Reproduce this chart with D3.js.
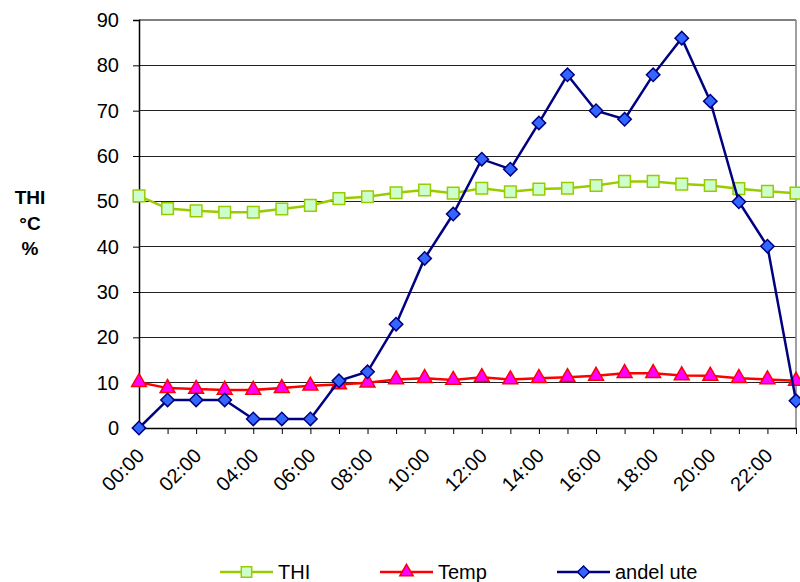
<!DOCTYPE html>
<html>
<head>
<meta charset="utf-8">
<script src="https://cdn.jsdelivr.net/npm/d3@7"></script>
<style>
  body { margin: 0; background: #fff; }
  text { font-family: Arial, "Liberation Sans", sans-serif; }
</style>
</head>
<body>
<div id="chart"></div>
<script>
var hours = ["00:00","01:00","02:00","03:00","04:00","05:00","06:00","07:00","08:00","09:00","10:00","11:00",
             "12:00","13:00","14:00","15:00","16:00","17:00","18:00","19:00","20:00","21:00","22:00","23:00"];
var thi = [51.2, 48.4, 47.9, 47.6, 47.6, 48.3, 49.1, 50.6, 51.0, 51.9, 52.5, 51.8,
           52.9, 52.1, 52.7, 52.9, 53.5, 54.4, 54.4, 53.8, 53.5, 52.8, 52.2, 51.8];
var temp = [10.1, 8.8, 8.6, 8.4, 8.4, 8.8, 9.3, 9.6, 10.0, 10.7, 11.0, 10.6,
            11.2, 10.7, 11.0, 11.2, 11.5, 12.1, 12.1, 11.6, 11.5, 11.0, 10.7, 10.4];
var andelUte = [0, 6.2, 6.2, 6.2, 2.0, 2.0, 2.0, 10.4, 12.4, 22.9, 37.4, 47.2,
                59.3, 57.1, 67.3, 77.9, 70.0, 68.1, 77.9, 86.0, 72.1, 49.9, 40.1, 6.0];
var yTicks = [0, 10, 20, 30, 40, 50, 60, 70, 80, 90];
var yTitle = ["THI", "\u00b0C", "%"];

var width = 800, height = 582;
var fontSize = 20;

var svg = d3.select("#chart").append("svg")
    .attr("width", width)
    .attr("height", height);

var x = d3.scalePoint().domain(hours).range([139, 796]);
var y = d3.scaleLinear().domain([0, 90]).range([428, 20]);

// gridlines
svg.append("g").selectAll("line")
    .data(yTicks.filter(function(d){ return d > 0; }))
    .enter().append("line")
    .attr("x1", 139).attr("x2", 796)
    .attr("y1", function(d){ return y(d); })
    .attr("y2", function(d){ return y(d); })
    .attr("stroke", function(d){ return d == 90 ? "#808080" : "#222"; })
    .attr("stroke-width", function(d){ return d == 90 ? 1.5 : 1; })
    .attr("shape-rendering", "crispEdges");

// right border
svg.append("line")
    .attr("x1", 796).attr("x2", 796).attr("y1", 20).attr("y2", 428)
    .attr("stroke", "#808080").attr("stroke-width", 1.5);

// y axis
var yAxis = d3.axisLeft(y).tickValues(yTicks).tickSize(6).tickPadding(14);
var gy = svg.append("g").attr("transform", "translate(139,0)").call(yAxis);
gy.select(".domain").attr("stroke", "#000").attr("stroke-width", 1.5);
gy.selectAll(".tick line").attr("stroke", "#000");
gy.selectAll(".tick text").attr("font-size", fontSize).attr("fill", "#000")
    .style("font-family", "Arial, 'Liberation Sans', sans-serif");

// x axis
var xAxis = d3.axisBottom(x).tickSize(6).tickSizeOuter(0)
    .tickFormat(function(d, i){ return i % 2 == 0 ? d : ""; });
var gx = svg.append("g").attr("transform", "translate(0,428)").call(xAxis);
gx.select(".domain").attr("stroke", "#000").attr("stroke-width", 1.5);
gx.selectAll(".tick line").attr("stroke", "#000");
gx.selectAll(".tick text")
    .attr("font-size", fontSize).attr("fill", "#000")
    .style("font-family", "Arial, 'Liberation Sans', sans-serif")
    .attr("text-anchor", "end")
    .attr("dy", null)
    .attr("y", 0)
    .attr("transform", "translate(6,29) rotate(-45)");

// y title
svg.append("g").selectAll("text")
    .data(yTitle)
    .enter().append("text")
    .attr("x", 30)
    .attr("y", function(d, i){ return 204 + i * 25.5; })
    .attr("text-anchor", "middle")
    .attr("font-size", 19)
    .attr("font-weight", "bold")
    .text(function(d){ return d; });

var line = d3.line()
    .x(function(d, i){ return x(hours[i]); })
    .y(function(d){ return y(d); });

var series = [
  {name: "THI", values: thi, color: "#99cc00", fill: "#ccffcc", symbol: d3.symbolSquare, size: 135, rot: 0},
  {name: "Temp", values: temp, color: "#ff0000", fill: "#ff00ff", symbol: d3.symbolTriangle, size: 95, rot: 0},
  {name: "andel ute", values: andelUte, color: "#000080", fill: "#3366ff", symbol: d3.symbolSquare, size: 90, rot: 45}
];

series.forEach(function(s){
    var g = svg.append("g");
    g.append("path")
        .attr("d", line(s.values))
        .attr("fill", "none")
        .attr("stroke", s.color)
        .attr("stroke-width", 2.5);
    g.selectAll("path.m")
        .data(s.values)
        .enter().append("path")
        .attr("class", "m")
        .attr("d", d3.symbol().type(s.symbol).size(s.size))
        .attr("transform", function(d, i){
            return "translate(" + x(hours[i]) + "," + y(d) + ") rotate(" + s.rot + ")";
        })
        .attr("fill", s.fill)
        .attr("stroke", s.color)
        .attr("stroke-width", 1.5);
});

// legend
var legendX = [220, 380, 557];
var legend = svg.append("g");
series.forEach(function(s, i){
    var lg = legend.append("g").attr("transform", "translate(" + legendX[i] + ",572)");
    lg.append("line").attr("x1", 0).attr("x2", 53).attr("y1", 0).attr("y2", 0)
        .attr("stroke", s.color).attr("stroke-width", 2.5);
    lg.append("path")
        .attr("d", d3.symbol().type(s.symbol).size(s.size * 0.8))
        .attr("transform", "translate(26.5,0) rotate(" + s.rot + ")")
        .attr("fill", s.fill).attr("stroke", s.color).attr("stroke-width", 1.5);
    lg.append("text").attr("x", 58).attr("y", 7)
        .attr("font-size", fontSize).text(s.name);
});
</script>
</body>
</html>
